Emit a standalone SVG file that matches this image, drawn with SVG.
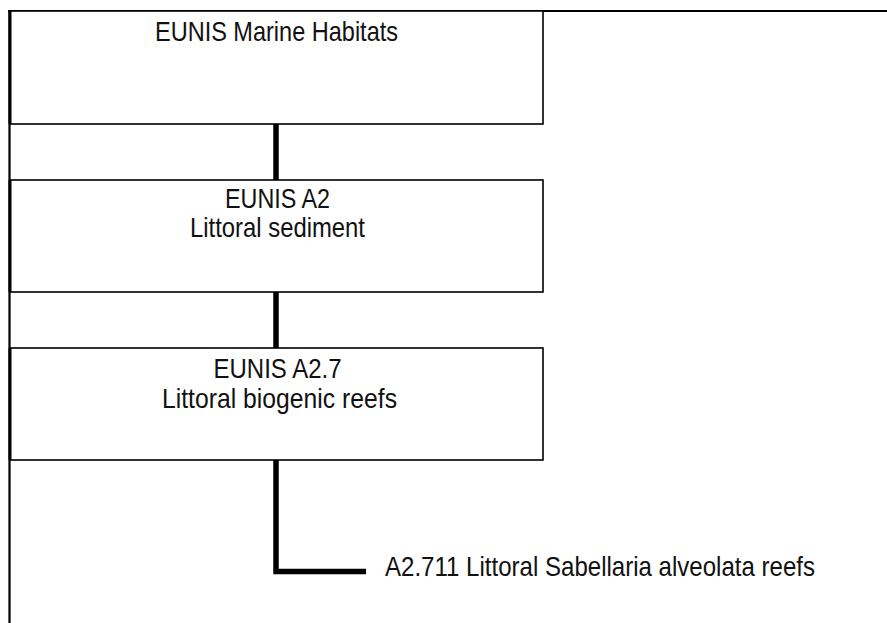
<svg xmlns="http://www.w3.org/2000/svg" width="887" height="623" viewBox="0 0 887 623">
<style>
.box{fill:#fff;stroke:#000;stroke-width:1.6}
.frame{fill:none;stroke:#000;stroke-width:2.2}
.conn{fill:none;stroke:#000;stroke-width:5.5;stroke-linejoin:miter}
.t{font-family:"Liberation Sans Narrow","Liberation Sans",Arial,sans-serif;font-size:28.5px;fill:#111;text-anchor:middle}
.lbl{font-family:"Liberation Sans Narrow","Liberation Sans",Arial,sans-serif;font-size:28.5px;fill:#111;text-anchor:start}
</style>
<rect width="887" height="623" fill="#fff"/>
<g id="frame">
<path class="frame" d="M8 11 H887 M9.5 11 V623"/>
</g>
<g id="connectors">
<path class="conn" d="M276 124 V180"/>
<path class="conn" d="M276 292 V348"/>
<path class="conn" d="M276 460 V571.5 H366"/>
</g>
<g id="node-marine">
<rect class="box" x="10" y="11" width="533" height="113"/>
<line x1="10" y1="11" x2="10" y2="124" stroke="#000" stroke-width="3"/>
<text class="t" x="276.5" y="41" textLength="243" lengthAdjust="spacingAndGlyphs">EUNIS Marine Habitats</text>
</g>
<g id="node-a2">
<rect class="box" x="10" y="180" width="533" height="112"/>
<line x1="10" y1="180" x2="10" y2="292" stroke="#000" stroke-width="3"/>
<text class="t" x="277.5" y="208" textLength="105" lengthAdjust="spacingAndGlyphs">EUNIS A2</text>
<text class="t" x="277.5" y="237" textLength="175" lengthAdjust="spacingAndGlyphs">Littoral sediment</text>
</g>
<g id="node-a27">
<rect class="box" x="10" y="348" width="533" height="112"/>
<line x1="10" y1="348" x2="10" y2="460" stroke="#000" stroke-width="3"/>
<text class="t" x="277.5" y="378" textLength="128" lengthAdjust="spacingAndGlyphs">EUNIS A2.7</text>
<text class="t" x="279.5" y="408" textLength="235" lengthAdjust="spacingAndGlyphs">Littoral biogenic reefs</text>
</g>
<g id="node-a2711">
<text class="lbl" transform="translate(385 576) scale(0.8 1)" x="0" y="0" textLength="537.5" lengthAdjust="spacingAndGlyphs">A2.711 Littoral Sabellaria alveolata reefs</text>
</g>
</svg>
